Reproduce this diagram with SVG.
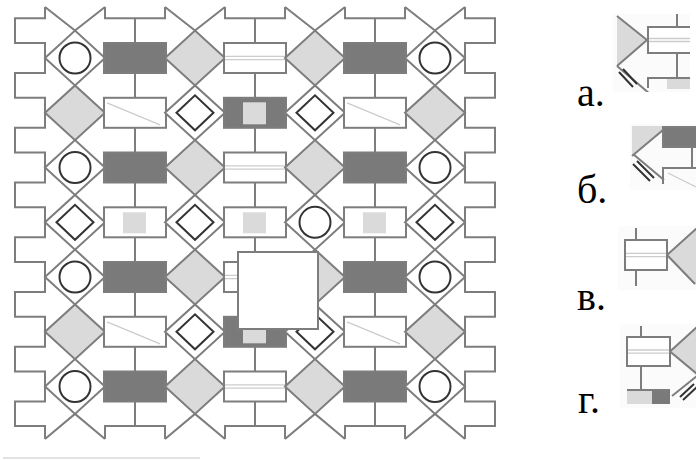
<svg xmlns="http://www.w3.org/2000/svg" width="696" height="460" viewBox="0 0 696 460">
<style>
.ln{stroke:#7d7d7d;stroke-width:2;fill:none;stroke-linejoin:miter}
.gs{stroke:#7d7d7d;stroke-width:2}
.lt{fill:#dadada}
.dk{fill:#7a7a7a}
.wt{fill:#fff}
.ink{stroke:#333;stroke-width:2;fill:none}
.hl{stroke:#cccccc;stroke-width:1.3;fill:none}
.lab{font-family:"Liberation Serif","Times New Roman",serif;font-size:40px;fill:#000}
.bgf{fill:#fbfbfb}
</style>
<defs>
<symbol id="dC" overflow="visible"><polygon class="wt gs" points="-30,0 0,-27.4 30,0 0,27.4"/><circle class="ink" r="15.5"/></symbol>
<symbol id="dL" overflow="visible"><polygon class="lt gs" points="-30,0 0,-27.4 30,0 0,27.4"/></symbol>
<symbol id="dD" overflow="visible"><polygon class="wt gs" points="-30,0 0,-27.4 30,0 0,27.4"/><polygon class="ink" points="-18.5,0 0,-17.5 18.5,0 0,17.5"/></symbol>
<symbol id="rK" overflow="visible"><rect class="dk gs" x="-31" y="-15" width="62" height="30"/></symbol>
<symbol id="rKS" overflow="visible"><rect class="dk gs" x="-31" y="-15" width="62" height="30"/><rect class="lt" x="-12" y="-10.5" width="23" height="22"/></symbol>
<symbol id="rWL" overflow="visible"><rect class="wt gs" x="-31" y="-15" width="62" height="30"/><line class="hl" x1="-28" y1="-10" x2="25" y2="12"/></symbol>
<symbol id="rWH" overflow="visible"><rect class="wt gs" x="-31" y="-15" width="62" height="30"/><line class="hl" x1="-30" y1="-1.6" x2="30" y2="-1.6"/><line class="hl" x1="-30" y1="1.6" x2="30" y2="1.6"/></symbol>
<symbol id="rWS" overflow="visible"><rect class="wt gs" x="-31" y="-15" width="62" height="30"/><rect class="lt" x="-12" y="-10" width="23" height="21"/></symbol>
<clipPath id="ca"><rect x="613" y="14" width="77" height="78"/></clipPath>
<clipPath id="cb"><rect x="630" y="124" width="66" height="66"/></clipPath>
<clipPath id="cv"><rect x="620" y="228" width="76" height="58"/></clipPath>
<clipPath id="cg"><rect x="622" y="326" width="74" height="80"/></clipPath>
</defs>

<g id="connectors">
<path class="ln" d="M45,7 V18.3 H15 V43 H45 V73 H15 V97.8 H45 V127.8 H15 V152.5 H45 V182.5 H15 V207.3 H45 V237.3 H15 V262 H45 V292 H15 V316.8 H45 V346.8 H15 V371.5 H45 V401.5 H15 V426 H45 V439"/>
<path class="ln" d="M465,7 V18.3 H495 V43 H465 V73 H495 V97.8 H465 V127.8 H495 V152.5 H465 V182.5 H495 V207.3 H465 V237.3 H495 V262 H465 V292 H495 V316.8 H465 V346.8 H495 V371.5 H465 V401.5 H495 V426 H465 V439"/>
<path class="ln" d="M105,7 V18.3 H165 V7 M225,7 V18.3 H285 V7 M345,7 V18.3 H405 V7"/>
<path class="ln" d="M105,439 V426 H165 V439 M225,439 V426 H285 V439 M345,439 V426 H405 V439"/>
<path class="ln" d="M45,7 L75,30.6 L105,7 M165,7 L195,30.6 L225,7 M285,7 L315,30.6 L345,7 M405,7 L435,30.6 L465,7"/>
<path class="ln" d="M45,439 L75,413.9 L105,439 M165,439 L195,413.9 L225,439 M285,439 L315,413.9 L345,439 M405,439 L435,413.9 L465,439"/>
<path class="ln" d="M135,18.3 V43 M135,73 V97.8 M135,127.8 V152.5 M135,182.5 V207.3 M135,237.3 V262 M135,292 V316.8 M135,346.8 V371.5 M135,401.5 V426
M255,18.3 V43 M255,73 V97.8 M255,127.8 V152.5 M255,182.5 V207.3 M255,237.3 V262 M255,292 V316.8 M255,346.8 V371.5 M255,401.5 V426
M375,18.3 V43 M375,73 V97.8 M375,127.8 V152.5 M375,182.5 V207.3 M375,237.3 V262 M375,292 V316.8 M375,346.8 V371.5 M375,401.5 V426"/>
</g>

<g id="row0">
<g id="r0c0"><use href="#dC" x="75" y="58"/></g>
<g id="r0c1"><use href="#rK" x="135" y="58"/></g>
<g id="r0c2"><use href="#dL" x="195" y="58"/></g>
<g id="r0c3"><use href="#rWH" x="255" y="58"/></g>
<g id="r0c4"><use href="#dL" x="315" y="58"/></g>
<g id="r0c5"><use href="#rK" x="375" y="58"/></g>
<g id="r0c6"><use href="#dC" x="435" y="58"/></g>
</g>
<g id="row1">
<g id="r1c0"><use href="#dL" x="75" y="112.8"/></g>
<g id="r1c1"><use href="#rWL" x="135" y="112.8"/></g>
<g id="r1c2"><use href="#dD" x="195" y="112.8"/></g>
<g id="r1c3"><use href="#rKS" x="255" y="112.8"/></g>
<g id="r1c4"><use href="#dD" x="315" y="112.8"/></g>
<g id="r1c5"><use href="#rWL" x="375" y="112.8"/></g>
<g id="r1c6"><use href="#dL" x="435" y="112.8"/></g>
</g>
<g id="row2">
<g id="r2c0"><use href="#dC" x="75" y="167.5"/></g>
<g id="r2c1"><use href="#rK" x="135" y="167.5"/></g>
<g id="r2c2"><use href="#dL" x="195" y="167.5"/></g>
<g id="r2c3"><use href="#rWH" x="255" y="167.5"/></g>
<g id="r2c4"><use href="#dL" x="315" y="167.5"/></g>
<g id="r2c5"><use href="#rK" x="375" y="167.5"/></g>
<g id="r2c6"><use href="#dC" x="435" y="167.5"/></g>
</g>
<g id="row3">
<g id="r3c0"><use href="#dD" x="75" y="222.3"/></g>
<g id="r3c1"><use href="#rWS" x="135" y="222.3"/></g>
<g id="r3c2"><use href="#dD" x="195" y="222.3"/></g>
<g id="r3c3"><use href="#rWS" x="255" y="222.3"/></g>
<g id="r3c4"><use href="#dC" x="315" y="222.3"/></g>
<g id="r3c5"><use href="#rWS" x="375" y="222.3"/></g>
<g id="r3c6"><use href="#dD" x="435" y="222.3"/></g>
</g>
<g id="row4">
<g id="r4c0"><use href="#dC" x="75" y="277"/></g>
<g id="r4c1"><use href="#rK" x="135" y="277"/></g>
<g id="r4c2"><use href="#dL" x="195" y="277"/></g>
<g id="r4c3"><use href="#rWH" x="255" y="277"/></g>
<g id="r4c4"><use href="#dL" x="315" y="277"/></g>
<g id="r4c5"><use href="#rK" x="375" y="277"/></g>
<g id="r4c6"><use href="#dC" x="435" y="277"/></g>
</g>
<g id="row5">
<g id="r5c0"><use href="#dL" x="75" y="331.8"/></g>
<g id="r5c1"><use href="#rWL" x="135" y="331.8"/></g>
<g id="r5c2"><use href="#dD" x="195" y="331.8"/></g>
<g id="r5c3"><use href="#rKS" x="255" y="331.8"/></g>
<g id="r5c4"><use href="#dD" x="315" y="331.8"/></g>
<g id="r5c5"><use href="#rWL" x="375" y="331.8"/></g>
<g id="r5c6"><use href="#dL" x="435" y="331.8"/></g>
</g>
<g id="row6">
<g id="r6c0"><use href="#dC" x="75" y="386.5"/></g>
<g id="r6c1"><use href="#rK" x="135" y="386.5"/></g>
<g id="r6c2"><use href="#dL" x="195" y="386.5"/></g>
<g id="r6c3"><use href="#rWH" x="255" y="386.5"/></g>
<g id="r6c4"><use href="#dL" x="315" y="386.5"/></g>
<g id="r6c5"><use href="#rK" x="375" y="386.5"/></g>
<g id="r6c6"><use href="#dC" x="435" y="386.5"/></g>
</g>

<g id="missing"><rect x="238" y="252" width="80" height="77" fill="#fff" stroke="#7d7d7d" stroke-width="2"/></g>
<line x1="3" y1="458" x2="200" y2="458" stroke="#e2e2e2" stroke-width="2"/>

<g id="opt-a">
<rect class="bgf" x="613" y="14" width="77" height="78"/>
<g clip-path="url(#ca)">
<polygon class="lt" points="617,16 647,40 617,66"/>
<path class="ln" d="M617,16 L647,40 L617,66 M617,66 L650,94"/>
<rect class="wt gs" x="648" y="27" width="44" height="26"/>
<line class="hl" x1="649" y1="38.5" x2="692" y2="38.5"/><line class="hl" x1="649" y1="41.5" x2="692" y2="41.5"/>
<path class="ln" d="M677,14 V27 M677,53 V78 M692,78 H648 V88"/>
<rect class="lt" x="667" y="79" width="23" height="10"/>
<path class="ink" d="M619,72 L633,87 M623,69 L637,84" stroke-width="1.6"/>
</g>
</g>
<g id="opt-b">
<rect class="bgf" x="630" y="124" width="66" height="66"/>
<g clip-path="url(#cb)">
<polygon class="lt" points="632,126 663,126 663,131 632,156"/>
<path class="ln" d="M663,130 L632,156 M633,154 L664,180"/>
<rect class="dk gs" x="663" y="127" width="36" height="20"/>
<path class="ln" d="M692,147 V168 M698,168 H663 V184"/>
<line class="hl" x1="668" y1="173" x2="696" y2="187"/>
<path class="ink" d="M633,164 L650,181 M637,161 L654,178" stroke-width="1.6"/>
</g>
</g>
<g id="opt-v">
<rect class="bgf" x="618" y="226" width="78" height="64"/>
<g clip-path="url(#cv)">
<polygon class="lt" points="667,255 697,228 697,286 "/>
<path class="ln" d="M697,228 L667,255 L695,284"/>
<path class="ln" d="M636,226 V240 M636,270 V286"/>
<rect class="wt gs" x="625" y="240" width="42" height="30"/>
<line class="hl" x1="626" y1="253.4" x2="666" y2="253.4"/><line class="hl" x1="626" y1="256.6" x2="666" y2="256.6"/>
</g>
</g>
<g id="opt-g">
<rect class="bgf" x="620" y="324" width="76" height="84"/>
<g clip-path="url(#cg)">
<polygon class="lt" points="670,351.5 697,327 697,374"/>
<path class="ln" d="M697,327 L670,351.5 L697,374 M697,376 L672,396"/>
<path class="ln" d="M641,326 V337 M641,366 V390"/>
<rect class="wt gs" x="627" y="337" width="43" height="29"/>
<line class="hl" x1="628" y1="350" x2="669" y2="350"/><line class="hl" x1="628" y1="353.2" x2="669" y2="353.2"/>
<rect class="lt" x="627" y="390" width="25" height="14"/>
<rect class="dk" x="652" y="390" width="18" height="14"/>
<line class="gs" x1="627" y1="390" x2="670" y2="390"/>
<path class="ink" d="M683,400 L697,387 M680,397 L694,384" stroke-width="1.6"/>
</g>
</g>

<g id="labels">
<text class="lab" x="577" y="106">а.</text>
<text class="lab" x="577" y="203">б.</text>
<text class="lab" x="577" y="310">в.</text>
<text class="lab" x="578" y="413">г.</text>
</g>
</svg>
